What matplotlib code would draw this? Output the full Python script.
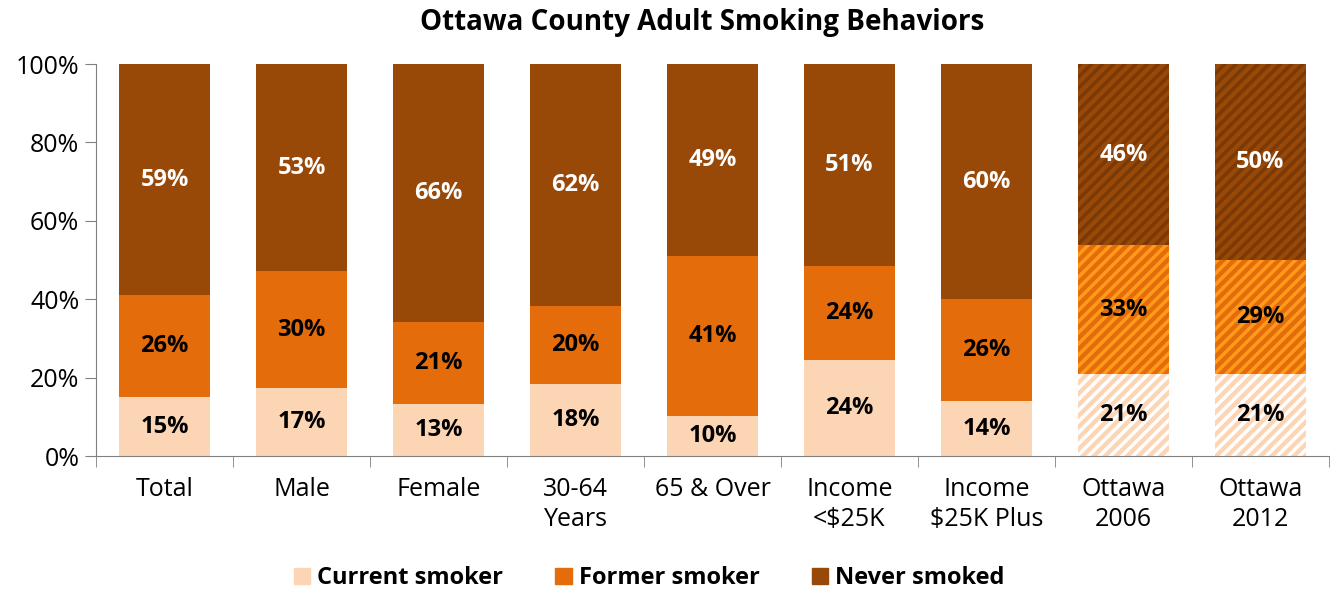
import numpy as np
import matplotlib.pyplot as plt
from matplotlib.patches import Patch

plt.rcParams['font.family'] = ['Open Sans', 'DejaVu Sans']
plt.rcParams['hatch.linewidth'] = 2.5

# data (percent)
categories = ['Total', 'Male', 'Female', '30-64\nYears', '65 & Over',
              'Income\n<$25K', 'Income\n$25K Plus', 'Ottawa\n2006', 'Ottawa\n2012']
current = [15.0, 17.3, 13.3, 18.4, 10.2, 24.4, 14.0, 20.9, 20.9]
former = [26.0, 29.9, 20.9, 19.9, 40.8, 24.2, 26.0, 32.9, 29.1]
never = [59.0, 52.8, 65.8, 61.7, 49.0, 51.4, 60.0, 46.2, 50.0]
hatched = [False] * 7 + [True, True]

c_cur = '#FCD5B5'
c_for = '#E46C0A'
c_nev = '#984807'
stripe = {c_cur: '#FFFFFF', c_for: '#FF9A1A', c_nev: '#7A3905'}

fig = plt.figure(figsize=(13.3, 5.93), dpi=100)
ax = fig.add_axes([0.0722, 0.231, 0.927, 0.661])

x = np.arange(len(categories))
w = 0.66
bottoms = np.zeros(len(categories))
for vals, col, tcol in [(current, c_cur, 'black'), (former, c_for, 'black'), (never, c_nev, 'white')]:
    for i in range(len(x)):
        if hatched[i]:
            ax.bar(x[i], vals[i], w, bottom=bottoms[i], color=col,
                   edgecolor=stripe[col], linewidth=0, hatch='///')
        else:
            ax.bar(x[i], vals[i], w, bottom=bottoms[i], color=col, linewidth=0)
        ax.text(x[i], bottoms[i] + vals[i] / 2, f'{vals[i]:.0f}%', ha='center', va='center',
                fontsize=17, fontweight='bold', color=tcol)
    bottoms += np.array(vals)

ax.set_xlim(-0.5, len(x) - 0.5)
ax.set_ylim(0, 100)
ax.set_yticks(np.arange(0, 101, 20))
ax.set_yticklabels([f'{v}%' for v in range(0, 101, 20)], fontsize=18)
ax.set_xticks(x)
ax.set_xticklabels(categories, fontsize=18, linespacing=1.25)
ax.tick_params(axis='x', length=0, pad=15)
ax.set_xticks(np.arange(-0.5, len(x), 1), minor=True)
ax.tick_params(axis='x', which='minor', length=8, color='#808080')
ax.tick_params(axis='y', length=8, color='#808080', pad=4)
for s in ['top', 'right']:
    ax.spines[s].set_visible(False)
for s in ['left', 'bottom']:
    ax.spines[s].set_color('#808080')

fig.text(0.528, 0.962, 'Ottawa County Adult Smoking Behaviors', fontsize=20, fontweight='bold',
         ha='center', va='center')

handles = [Patch(color=c_cur, label='Current smoker'),
           Patch(color=c_for, label='Former smoker'),
           Patch(color=c_nev, label='Never smoked')]
fig.legend(handles=handles, loc='center', bbox_to_anchor=(0.488, 0.025), ncol=3, frameon=False,
           prop={'size': 17, 'weight': 'bold'}, handlelength=0.7, handleheight=0.7,
           handletextpad=0.3, columnspacing=2.2)

fig.savefig('out.png', dpi=100)
